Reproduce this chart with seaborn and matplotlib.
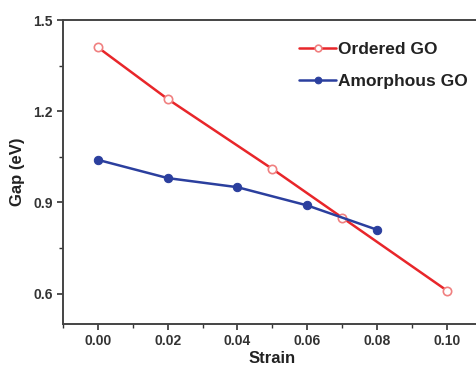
import pandas as pd
import matplotlib.pyplot as plt
import seaborn as sns
from matplotlib.ticker import MultipleLocator

# Dados
strain_ordered = [0.00, 0.02, 0.05, 0.07, 0.10]
gap_ordered = [1.41, 1.24, 1.01, 0.85, 0.61]
strain_amorph = [0.00, 0.02, 0.04, 0.06, 0.08]
gap_amorph = [1.04, 0.98, 0.95, 0.89, 0.81]

df_ord = pd.DataFrame({'strain': strain_ordered, 'gap': gap_ordered})
df_amo = pd.DataFrame({'strain': strain_amorph, 'gap': gap_amorph})

sns.set_style('ticks')
plt.rcParams['font.family'] = ['Liberation Sans', 'DejaVu Sans']
plt.rcParams['font.weight'] = 'bold'

fig = plt.figure(figsize=(4.77, 3.67), dpi=100)
ax = fig.add_axes([63 / 477, 1 - 324 / 367, 1 - 63 / 477 + 0.01, (324 - 20) / 367])

sns.lineplot(data=df_ord, x='strain', y='gap', ax=ax, color='#e8262a', lw=1.8,
             marker='o', markersize=6, markerfacecolor='white',
             markeredgecolor='#f08080', markeredgewidth=1.2, label='Ordered GO')
sns.lineplot(data=df_amo, x='strain', y='gap', ax=ax, color='#2b3f9e', lw=1.8,
             marker='o', markersize=6, markerfacecolor='#2b3f9e',
             markeredgecolor='#2b3f9e', label='Amorphous GO')

ax.xaxis.set_major_locator(MultipleLocator(0.02))
ax.xaxis.set_minor_locator(MultipleLocator(0.01))
ax.yaxis.set_minor_locator(MultipleLocator(0.15))
ax.set_yticks([0.6, 0.9, 1.2, 1.5])
ax.set_xlim(-0.01, 0.11)
ax.set_ylim(0.5, 1.5)
ax.xaxis.set_major_formatter(plt.FuncFormatter(lambda v, p: f'{v:.2f}'))
ax.yaxis.set_major_formatter(plt.FuncFormatter(lambda v, p: f'{v:.1f}'))

ax.tick_params(which='major', direction='out', length=4, width=1.2, labelsize=10, colors='#333333')
ax.tick_params(which='minor', direction='out', length=3, width=1.0, colors='#333333')
for s in ax.spines.values():
    s.set_linewidth(1.4)
    s.set_color('#444444')

ax.set_xlabel('Strain', fontsize=12, fontweight='bold', color='#222222', labelpad=2)
ax.set_ylabel('Gap (eV)', fontsize=12, fontweight='bold', color='#222222', labelpad=6)

leg = ax.legend(loc='upper right', bbox_to_anchor=(1.005, 0.978), frameon=False,
                fontsize=12.5, handlelength=2.1, handletextpad=0.15, labelspacing=0.95,
                markerscale=0.8)
for t in leg.get_texts():
    t.set_fontweight('bold')
    t.set_color('#222222')

plt.savefig('out.png', dpi=100)
